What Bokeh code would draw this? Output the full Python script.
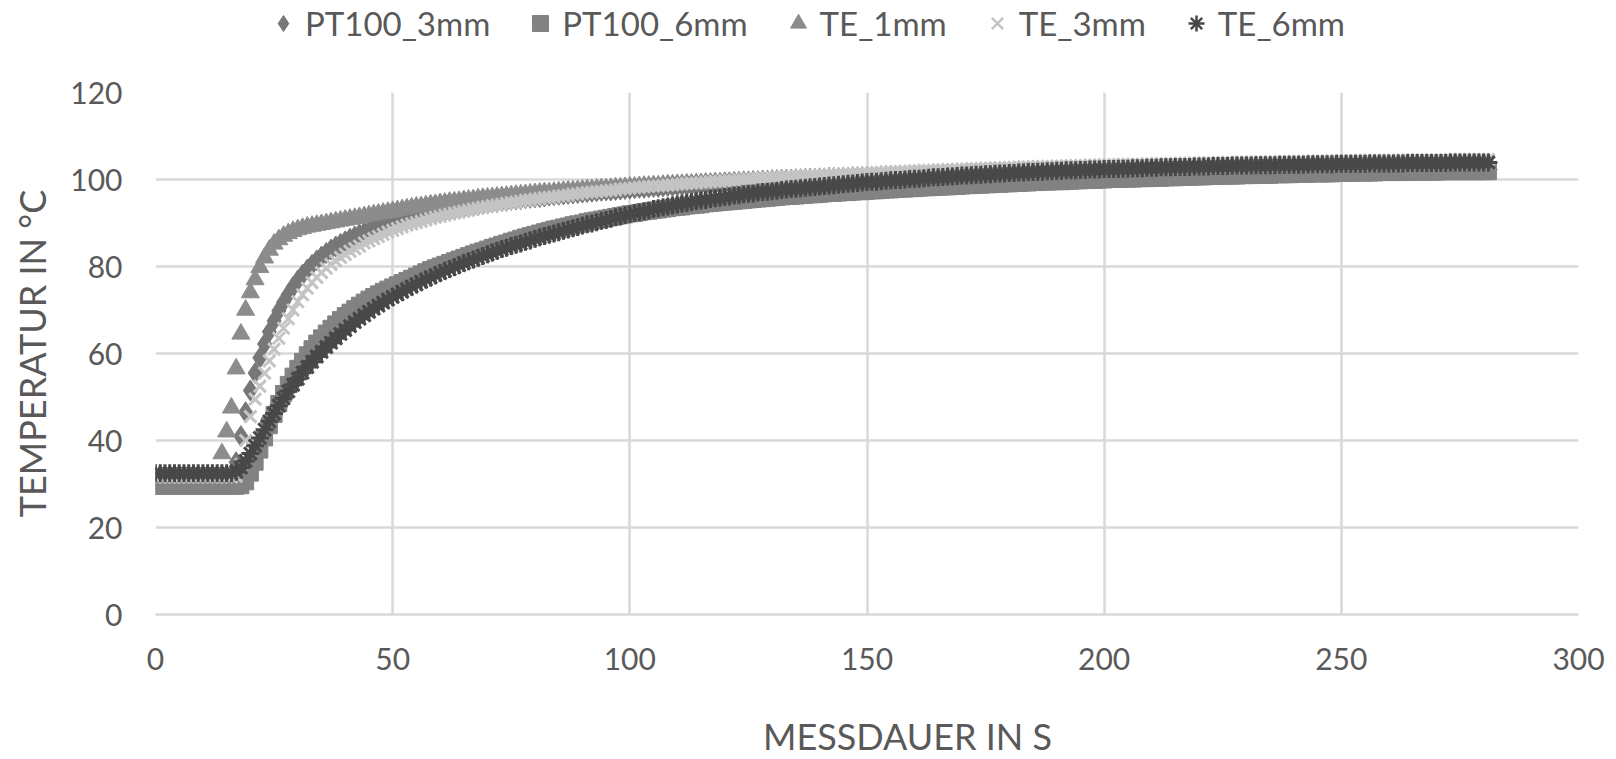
from bokeh.plotting import figure
from bokeh.models import Range1d, Legend, LegendItem, FixedTicker, Label
from bokeh.layouts import column
from bokeh.embed import file_html
from bokeh.resources import INLINE

# Messdauer in s (one sample per second)
messdauer_s = list(range(282))

pt100_3mm = [
    31.2, 31.2, 31.2, 31.2, 31.2, 31.2, 31.2, 31.2, 31.2, 31.2,
    31.2, 31.2, 31.2, 31.2, 31.2, 31.2, 31.3, 35.0, 41.0, 46.5,
    51.5, 55.5, 59.0, 62.2, 65.0, 67.5, 69.8, 71.8, 73.6, 75.3,
    76.8, 78.1, 79.3, 80.4, 81.4, 82.3, 83.1, 83.9, 84.6, 85.2,
    85.8, 86.4, 86.9, 87.4, 87.8, 88.2, 88.6, 89.0, 89.3, 89.6,
    89.9, 90.2, 90.5, 90.8, 91.1, 91.4, 91.6, 91.9, 92.1, 92.3,
    92.5, 92.7, 92.9, 93.1, 93.3, 93.5, 93.7, 93.9, 94.1, 94.3,
    94.5, 94.7, 94.8, 95.0, 95.1, 95.3, 95.4, 95.5, 95.7, 95.8,
    95.9, 96.0, 96.1, 96.3, 96.4, 96.5, 96.6, 96.7, 96.8, 96.9,
    97.0, 97.1, 97.2, 97.3, 97.4, 97.5, 97.5, 97.6, 97.7, 97.8,
    97.9, 98.0, 98.1, 98.1, 98.2, 98.3, 98.3, 98.4, 98.5, 98.5,
    98.6, 98.7, 98.7, 98.8, 98.8, 98.9, 99.0, 99.0, 99.1, 99.1,
    99.2, 99.2, 99.3, 99.3, 99.4, 99.4, 99.5, 99.5, 99.6, 99.6,
    99.7, 99.7, 99.8, 99.8, 99.9, 99.9, 100.0, 100.0, 100.1, 100.1,
    100.2, 100.2, 100.3, 100.3, 100.3, 100.4, 100.4, 100.5, 100.5, 100.5,
    100.6, 100.6, 100.7, 100.7, 100.8, 100.8, 100.8, 100.9, 100.9, 100.9,
    101.0, 101.0, 101.1, 101.1, 101.2, 101.2, 101.2, 101.3, 101.3, 101.3,
    101.4, 101.4, 101.4, 101.5, 101.5, 101.5, 101.6, 101.6, 101.6, 101.7,
    101.7, 101.7, 101.8, 101.8, 101.8, 101.9, 101.9, 101.9, 102.0, 102.0,
    102.0, 102.0, 102.1, 102.1, 102.1, 102.2, 102.2, 102.2, 102.3, 102.3,
    102.3, 102.3, 102.4, 102.4, 102.4, 102.4, 102.5, 102.5, 102.5, 102.5,
    102.5, 102.6, 102.6, 102.6, 102.6, 102.7, 102.7, 102.7, 102.7, 102.7,
    102.7, 102.8, 102.8, 102.8, 102.8, 102.9, 102.9, 102.9, 102.9, 102.9,
    102.9, 103.0, 103.0, 103.0, 103.0, 103.0, 103.1, 103.1, 103.1, 103.1,
    103.1, 103.1, 103.1, 103.2, 103.2, 103.2, 103.2, 103.2, 103.2, 103.2,
    103.2, 103.3, 103.3, 103.3, 103.3, 103.3, 103.3, 103.3, 103.3, 103.3,
    103.3, 103.4, 103.4, 103.4, 103.4, 103.4, 103.4, 103.4, 103.4, 103.4,
    103.4, 103.5, 103.5, 103.5, 103.5, 103.5, 103.5, 103.5, 103.5, 103.5,
    103.5, 103.5,
]

pt100_6mm = [
    29.5, 29.5, 29.5, 29.5, 29.5, 29.5, 29.5, 29.5, 29.5, 29.5,
    29.5, 29.5, 29.5, 29.5, 29.5, 29.5, 29.5, 29.5, 29.6, 30.5,
    32.5, 35.0, 37.8, 40.6, 43.4, 46.0, 48.5, 50.8, 52.9, 54.8,
    56.6, 58.2, 59.7, 61.1, 62.4, 63.6, 64.7, 65.8, 66.8, 67.8,
    68.7, 69.5, 70.3, 71.1, 71.8, 72.5, 73.1, 73.7, 74.3, 74.8,
    75.3, 75.8, 76.3, 76.8, 77.3, 77.8, 78.3, 78.8, 79.3, 79.7,
    80.1, 80.5, 80.9, 81.3, 81.7, 82.1, 82.5, 82.9, 83.3, 83.6,
    84.0, 84.4, 84.7, 85.1, 85.4, 85.8, 86.1, 86.5, 86.8, 87.1,
    87.4, 87.7, 88.0, 88.3, 88.6, 88.8, 89.1, 89.3, 89.6, 89.8,
    90.0, 90.3, 90.5, 90.7, 90.9, 91.1, 91.3, 91.5, 91.7, 91.9,
    92.1, 92.2, 92.4, 92.6, 92.7, 92.9, 93.0, 93.2, 93.3, 93.5,
    93.6, 93.7, 93.9, 94.0, 94.1, 94.2, 94.4, 94.5, 94.6, 94.7,
    94.8, 94.9, 95.0, 95.1, 95.2, 95.3, 95.4, 95.5, 95.6, 95.7,
    95.8, 95.9, 96.0, 96.1, 96.1, 96.2, 96.3, 96.4, 96.5, 96.5,
    96.6, 96.7, 96.8, 96.8, 96.9, 97.0, 97.0, 97.1, 97.2, 97.2,
    97.3, 97.4, 97.4, 97.5, 97.6, 97.6, 97.7, 97.8, 97.8, 97.9,
    97.9, 98.0, 98.1, 98.1, 98.2, 98.2, 98.3, 98.3, 98.4, 98.4,
    98.5, 98.6, 98.6, 98.7, 98.7, 98.8, 98.8, 98.9, 98.9, 99.0,
    99.0, 99.1, 99.1, 99.2, 99.2, 99.3, 99.3, 99.4, 99.4, 99.5,
    99.5, 99.5, 99.6, 99.6, 99.7, 99.7, 99.8, 99.8, 99.8, 99.9,
    99.9, 100.0, 100.0, 100.0, 100.1, 100.1, 100.1, 100.2, 100.2, 100.2,
    100.3, 100.3, 100.3, 100.4, 100.4, 100.4, 100.5, 100.5, 100.5, 100.6,
    100.6, 100.6, 100.7, 100.7, 100.7, 100.8, 100.8, 100.8, 100.8, 100.9,
    100.9, 100.9, 101.0, 101.0, 101.0, 101.0, 101.1, 101.1, 101.1, 101.1,
    101.2, 101.2, 101.2, 101.2, 101.3, 101.3, 101.3, 101.3, 101.3, 101.4,
    101.4, 101.4, 101.4, 101.5, 101.5, 101.5, 101.5, 101.5, 101.6, 101.6,
    101.6, 101.6, 101.6, 101.6, 101.7, 101.7, 101.7, 101.7, 101.7, 101.7,
    101.7, 101.8, 101.8, 101.8, 101.8, 101.8, 101.8, 101.8, 101.8, 101.8,
    101.8, 101.8,
]

te_1mm = [
    31.3, 31.3, 31.3, 31.3, 31.3, 31.3, 31.3, 31.3, 31.3, 31.3,
    31.3, 31.3, 31.3, 31.5, 37.0, 42.0, 47.5, 56.5, 64.5, 70.0,
    74.0, 77.0, 79.8, 82.0, 83.8, 85.2, 86.2, 87.0, 87.6, 88.1,
    88.5, 88.8, 89.1, 89.3, 89.5, 89.7, 89.9, 90.1, 90.3, 90.5,
    90.7, 90.9, 91.1, 91.3, 91.5, 91.7, 91.9, 92.1, 92.3, 92.5,
    92.7, 92.9, 93.1, 93.3, 93.5, 93.7, 93.8, 94.0, 94.2, 94.3,
    94.5, 94.6, 94.8, 94.9, 95.0, 95.2, 95.3, 95.4, 95.6, 95.7,
    95.8, 95.9, 96.0, 96.1, 96.2, 96.3, 96.4, 96.5, 96.6, 96.7,
    96.8, 96.9, 97.0, 97.0, 97.1, 97.2, 97.3, 97.4, 97.4, 97.5,
    97.6, 97.7, 97.7, 97.8, 97.9, 97.9, 98.0, 98.1, 98.1, 98.2,
    98.3, 98.3, 98.4, 98.5, 98.5, 98.6, 98.6, 98.7, 98.8, 98.8,
    98.9, 98.9, 99.0, 99.0, 99.1, 99.1, 99.2, 99.2, 99.3, 99.3,
    99.4, 99.4, 99.5, 99.5, 99.6, 99.6, 99.7, 99.7, 99.8, 99.8,
    99.9, 99.9, 100.0, 100.0, 100.0, 100.1, 100.1, 100.2, 100.2, 100.2,
    100.3, 100.3, 100.4, 100.4, 100.4, 100.5, 100.5, 100.6, 100.6, 100.6,
    100.7, 100.7, 100.7, 100.8, 100.8, 100.8, 100.9, 100.9, 100.9, 101.0,
    101.0, 101.0, 101.1, 101.1, 101.1, 101.2, 101.2, 101.2, 101.3, 101.3,
    101.3, 101.3, 101.4, 101.4, 101.4, 101.5, 101.5, 101.5, 101.6, 101.6,
    101.6, 101.6, 101.7, 101.7, 101.7, 101.8, 101.8, 101.8, 101.9, 101.9,
    101.9, 101.9, 102.0, 102.0, 102.0, 102.0, 102.1, 102.1, 102.1, 102.1,
    102.1, 102.2, 102.2, 102.2, 102.2, 102.2, 102.3, 102.3, 102.3, 102.3,
    102.3, 102.4, 102.4, 102.4, 102.4, 102.4, 102.5, 102.5, 102.5, 102.5,
    102.5, 102.6, 102.6, 102.6, 102.6, 102.6, 102.7, 102.7, 102.7, 102.7,
    102.7, 102.8, 102.8, 102.8, 102.8, 102.8, 102.9, 102.9, 102.9, 102.9,
    102.9, 102.9, 103.0, 103.0, 103.0, 103.0, 103.0, 103.0, 103.0, 103.1,
    103.1, 103.1, 103.1, 103.1, 103.1, 103.1, 103.2, 103.2, 103.2, 103.2,
    103.2, 103.2, 103.2, 103.3, 103.3, 103.3, 103.3, 103.3, 103.3, 103.3,
    103.3, 103.3, 103.4, 103.4, 103.4, 103.4, 103.4, 103.4, 103.4, 103.4,
    103.4, 103.4,
]

te_3mm = [
    31.6, 31.6, 31.6, 31.6, 31.6, 31.6, 31.6, 31.6, 31.6, 31.6,
    31.6, 31.6, 31.6, 31.6, 31.6, 31.6, 31.6, 31.8, 34.5, 40.0,
    45.5, 49.5, 52.5, 55.5, 58.3, 61.0, 63.5, 65.8, 68.0, 70.0,
    71.9, 73.5, 75.0, 76.3, 77.5, 78.6, 79.6, 80.5, 81.3, 82.1,
    82.8, 83.5, 84.1, 84.7, 85.4, 85.9, 86.4, 86.9, 87.4, 87.9,
    88.3, 88.7, 89.1, 89.5, 89.8, 90.1, 90.4, 90.7, 91.0, 91.3,
    91.5, 91.8, 92.0, 92.3, 92.5, 92.7, 92.9, 93.2, 93.4, 93.6,
    93.8, 94.0, 94.1, 94.3, 94.5, 94.7, 94.8, 95.0, 95.2, 95.3,
    95.5, 95.6, 95.8, 95.9, 96.0, 96.2, 96.3, 96.4, 96.6, 96.7,
    96.9, 97.0, 97.1, 97.2, 97.3, 97.4, 97.5, 97.6, 97.8, 97.9,
    98.0, 98.1, 98.2, 98.3, 98.4, 98.5, 98.5, 98.6, 98.7, 98.8,
    98.9, 99.0, 99.1, 99.2, 99.2, 99.3, 99.4, 99.5, 99.6, 99.6,
    99.7, 99.8, 99.8, 99.9, 100.0, 100.1, 100.1, 100.2, 100.3, 100.3,
    100.4, 100.5, 100.5, 100.6, 100.6, 100.7, 100.8, 100.8, 100.9, 100.9,
    101.0, 101.0, 101.1, 101.1, 101.2, 101.2, 101.3, 101.3, 101.4, 101.4,
    101.5, 101.5, 101.6, 101.6, 101.7, 101.7, 101.8, 101.8, 101.9, 101.9,
    102.0, 102.0, 102.1, 102.1, 102.1, 102.2, 102.2, 102.3, 102.3, 102.3,
    102.4, 102.4, 102.5, 102.5, 102.5, 102.6, 102.6, 102.7, 102.7, 102.7,
    102.8, 102.8, 102.8, 102.9, 102.9, 102.9, 103.0, 103.0, 103.0, 103.0,
    103.1, 103.1, 103.1, 103.2, 103.2, 103.2, 103.2, 103.3, 103.3, 103.3,
    103.4, 103.4, 103.4, 103.4, 103.5, 103.5, 103.5, 103.5, 103.5, 103.6,
    103.6, 103.6, 103.6, 103.6, 103.7, 103.7, 103.7, 103.7, 103.7, 103.8,
    103.8, 103.8, 103.8, 103.8, 103.9, 103.9, 103.9, 103.9, 103.9, 104.0,
    104.0, 104.0, 104.0, 104.0, 104.0, 104.1, 104.1, 104.1, 104.1, 104.1,
    104.2, 104.2, 104.2, 104.2, 104.2, 104.2, 104.2, 104.3, 104.3, 104.3,
    104.3, 104.3, 104.3, 104.3, 104.4, 104.4, 104.4, 104.4, 104.4, 104.4,
    104.4, 104.4, 104.4, 104.5, 104.5, 104.5, 104.5, 104.5, 104.5, 104.5,
    104.5, 104.5, 104.5, 104.6, 104.6, 104.6, 104.6, 104.6, 104.6, 104.6,
    104.6, 104.6,
]

te_6mm = [
    32.5, 32.5, 32.5, 32.5, 32.5, 32.5, 32.5, 32.5, 32.5, 32.5,
    32.5, 32.5, 32.5, 32.5, 32.5, 32.5, 32.5, 32.8, 33.8, 35.3,
    37.0, 38.8, 40.6, 42.5, 44.4, 46.2, 48.0, 49.7, 51.3, 52.8,
    54.2, 55.6, 56.9, 58.1, 59.3, 60.4, 61.5, 62.5, 63.5, 64.5,
    65.4, 66.3, 67.2, 68.0, 68.8, 69.6, 70.3, 71.0, 71.7, 72.4,
    73.0, 73.6, 74.2, 74.8, 75.4, 75.9, 76.5, 77.0, 77.5, 78.0,
    78.5, 79.0, 79.4, 79.9, 80.3, 80.8, 81.2, 81.6, 82.0, 82.4,
    82.8, 83.2, 83.6, 84.0, 84.3, 84.7, 85.0, 85.3, 85.7, 86.0,
    86.4, 86.7, 87.0, 87.3, 87.6, 87.9, 88.2, 88.5, 88.8, 89.1,
    89.4, 89.7, 89.9, 90.2, 90.5, 90.7, 91.0, 91.3, 91.5, 91.8,
    92.0, 92.3, 92.5, 92.7, 92.9, 93.2, 93.4, 93.6, 93.8, 94.0,
    94.2, 94.4, 94.6, 94.8, 95.0, 95.2, 95.3, 95.5, 95.7, 95.8,
    96.0, 96.1, 96.3, 96.4, 96.6, 96.7, 96.8, 97.0, 97.1, 97.2,
    97.3, 97.4, 97.6, 97.7, 97.8, 97.9, 98.0, 98.1, 98.2, 98.3,
    98.4, 98.5, 98.6, 98.7, 98.8, 98.9, 99.0, 99.1, 99.2, 99.3,
    99.4, 99.5, 99.5, 99.6, 99.7, 99.8, 99.9, 99.9, 100.0, 100.1,
    100.2, 100.2, 100.3, 100.4, 100.5, 100.5, 100.6, 100.7, 100.7, 100.8,
    100.9, 100.9, 101.0, 101.1, 101.1, 101.2, 101.2, 101.3, 101.4, 101.4,
    101.5, 101.5, 101.6, 101.6, 101.7, 101.7, 101.8, 101.8, 101.9, 101.9,
    102.0, 102.0, 102.1, 102.1, 102.1, 102.2, 102.2, 102.3, 102.3, 102.3,
    102.4, 102.4, 102.4, 102.5, 102.5, 102.5, 102.6, 102.6, 102.6, 102.7,
    102.7, 102.7, 102.8, 102.8, 102.8, 102.9, 102.9, 102.9, 102.9, 103.0,
    103.0, 103.0, 103.0, 103.1, 103.1, 103.1, 103.1, 103.2, 103.2, 103.2,
    103.2, 103.2, 103.3, 103.3, 103.3, 103.3, 103.3, 103.4, 103.4, 103.4,
    103.4, 103.4, 103.4, 103.5, 103.5, 103.5, 103.5, 103.5, 103.5, 103.6,
    103.6, 103.6, 103.6, 103.6, 103.6, 103.6, 103.7, 103.7, 103.7, 103.7,
    103.7, 103.7, 103.7, 103.7, 103.8, 103.8, 103.8, 103.8, 103.8, 103.8,
    103.8, 103.8, 103.8, 103.9, 103.9, 103.9, 103.9, 103.9, 103.9, 103.9,
    103.9, 103.9,
]

series_names = ["PT100_3mm", "PT100_6mm", "TE_1mm", "TE_3mm", "TE_6mm"]
x_ticks = [0, 50, 100, 150, 200, 250, 300]
y_ticks = [0, 20, 40, 60, 80, 100, 120]
x_title = "MESSDAUER IN S"
y_title = "TEMPERATUR IN °C"

FONT = "Lato"
TEXT = "#595959"
GRID = "#d9d9d9"

styles = [
    dict(marker="diamond", size=21, fill_color="#777777", line_color="#777777", line_width=1),
    dict(marker="square", size=16, fill_color="#828282", line_color="#828282", line_width=1),
    dict(marker="triangle", size=18, fill_color="#8c8c8c", line_color="#8c8c8c", line_width=1),
    dict(marker="x", size=17, line_color="#c4c4c4", line_width=3),
    dict(marker="asterisk", size=18, line_color="#484848", line_width=3),
]
legend_styles = [
    dict(marker="diamond", fill_color="#777777", line_color="#777777", line_width=1),
    dict(marker="square", fill_color="#828282", line_color="#828282", line_width=1),
    dict(marker="triangle", fill_color="#8c8c8c", line_color="#8c8c8c", line_width=1),
    dict(marker="x", line_color="#c4c4c4", line_width=2.5),
    dict(marker="asterisk", line_color="#484848", line_width=2.5),
]

LEG_H = 46           # legend strip height
MAIN_BOTTOM = 60     # space under the plot frame for the tick labels
FRAME_H = 522
MAIN_H = (92 - LEG_H) + FRAME_H + MAIN_BOTTOM
TITLE_H = 759 - LEG_H - MAIN_H
TITLE_CENTER = 735   # page y of the x-axis title centre
all_series = [pt100_3mm, pt100_6mm, te_1mm, te_3mm, te_6mm]

# ---- main chart ----
p = figure(
    width=1616, height=MAIN_H, output_backend="svg", toolbar_location=None,
    x_range=Range1d(0, 300), y_range=Range1d(0, 120),
    min_border_left=155, min_border_right=38, min_border_top=92 - LEG_H,
    min_border_bottom=MAIN_BOTTOM,
)
p.outline_line_color = None
p.background_fill_color = "white"
p.border_fill_color = "white"

p.xaxis.ticker = FixedTicker(ticks=x_ticks)
p.yaxis.ticker = FixedTicker(ticks=y_ticks)
for g in (p.xgrid, p.ygrid):
    g.grid_line_color = GRID
    g.grid_line_width = 2.5

for ax in (p.xaxis, p.yaxis):
    ax.major_tick_line_color = None
    ax.minor_tick_line_color = None
    ax.major_tick_out = 0
    ax.major_tick_in = 0
    ax.major_label_text_font = FONT
    ax.major_label_text_font_size = "30px"
    ax.major_label_text_color = TEXT

p.xaxis.axis_line_color = GRID
p.xaxis.axis_line_width = 2.5
p.yaxis.axis_line_color = None
p.xaxis.major_label_standoff = 33
p.yaxis.major_label_standoff = 33
p.yaxis.axis_label = y_title
p.yaxis.axis_label_text_font = FONT
p.yaxis.axis_label_text_font_size = "36px"
p.yaxis.axis_label_text_font_style = "normal"
p.yaxis.axis_label_text_color = TEXT
p.yaxis.axis_label_standoff = 13

for vals, st in zip(all_series, styles):
    p.scatter(messdauer_s[:len(vals)], vals, **st)

# ---- legend strip above the chart (same series, drawn outside its visible range) ----
lg = figure(
    width=1616, height=LEG_H, output_backend="svg", toolbar_location=None,
    x_range=Range1d(0, 1), y_range=Range1d(0, 1),
    x_axis_type=None, y_axis_type=None, min_border=0,
)
lg.outline_line_color = None
lg.grid.visible = False
lg.background_fill_color = "white"
lg.border_fill_color = "white"

items = []
for name, vals, st in zip(series_names, all_series, legend_styles):
    r = lg.scatter(messdauer_s[:len(vals)], vals, size=16, **st)
    items.append(LegendItem(label=name, renderers=[r]))

legend = Legend(
    items=items,
    orientation="horizontal",
    location=(108, 3),
    label_text_font=FONT,
    label_text_font_size="33px",
    label_text_color=TEXT,
    glyph_width=40,
    glyph_height=40,
    label_standoff=2,
    spacing=30,
    padding=0,
    margin=0,
    border_line_color=None,
    background_fill_alpha=0,
)
lg.add_layout(legend, "center")

# ---- x-axis title strip below the chart ----
tt = figure(
    width=1616, height=TITLE_H, output_backend="svg", toolbar_location=None,
    x_range=Range1d(0, 1), y_range=Range1d(0, 1),
    x_axis_type=None, y_axis_type=None, min_border=0,
)
tt.outline_line_color = None
tt.grid.visible = False
tt.background_fill_color = "white"
tt.border_fill_color = "white"
tt.add_layout(Label(
    x=752, y=TITLE_H - (TITLE_CENTER - LEG_H - MAIN_H), x_units="screen", y_units="screen",
    text=x_title, text_align="center", text_baseline="middle",
    text_font=FONT, text_font_size="36px", text_color=TEXT,
))

layout = column(lg, p, tt, spacing=0)
open("out.html", "w").write(file_html(layout, INLINE))
